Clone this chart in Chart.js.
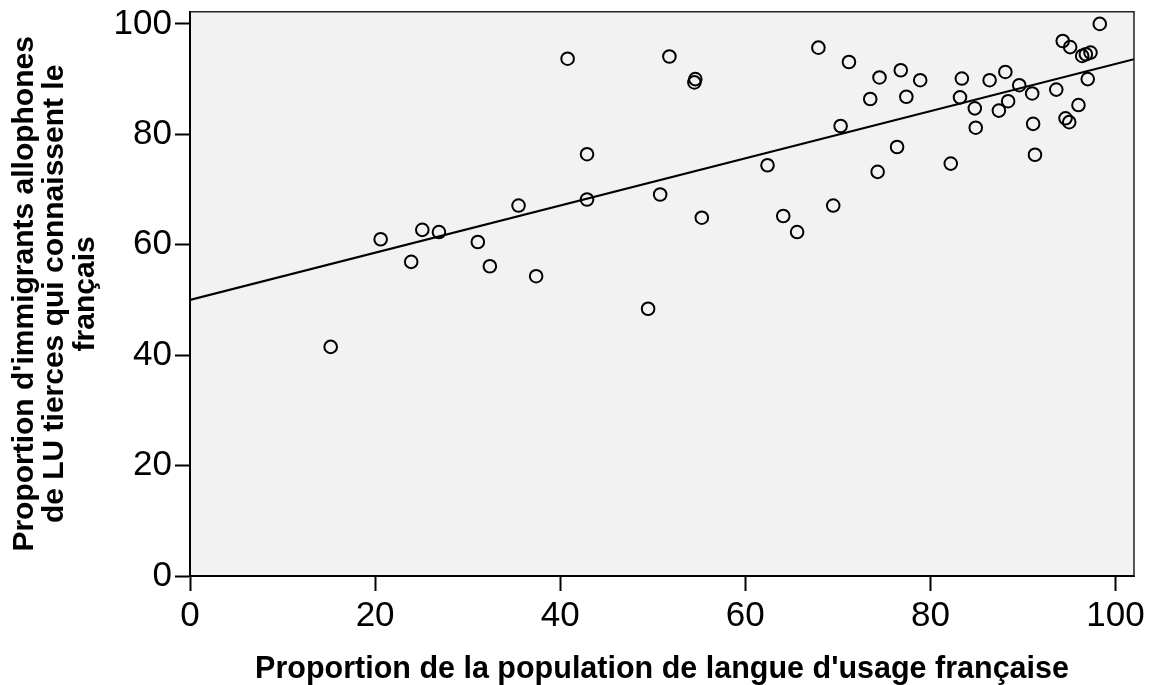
<!DOCTYPE html>
<html>
<head>
<meta charset="utf-8">
<script src="https://cdn.jsdelivr.net/npm/chart.js@4/dist/chart.umd.min.js"></script>
<style>
  html, body { margin: 0; padding: 0; background: #ffffff; }
  #wrap { width: 1162px; height: 685px; position: relative; }
</style>
</head>
<body>
<div id="wrap"><canvas id="c"></canvas></div>
<script>
// Proportion de la population de langue d'usage française (x)
const xValues = [15.2, 20.6, 23.9, 25.1, 26.9, 31.1, 32.4, 35.5, 37.4, 40.8,
                 42.9, 42.9, 49.5, 50.8, 51.8, 54.6, 54.5, 55.3, 62.4, 64.1,
                 65.6, 67.9, 69.5, 70.3, 71.2, 73.5, 74.3, 74.5, 76.4, 76.8,
                 77.4, 78.9, 82.2, 83.2, 83.4, 84.8, 84.9, 86.4, 87.4, 88.1,
                 88.4, 89.6, 91.0, 91.1, 91.3, 93.6, 94.3, 94.6, 95.0, 95.1,
                 96.0, 96.4, 96.8, 97.3, 97.0, 98.3];
// Proportion d'immigrants allophones de LU tierces qui connaissent le français (y)
const yValues = [41.5, 61.0, 56.9, 62.7, 62.3, 60.5, 56.1, 67.1, 54.3, 93.7,
                 76.4, 68.2, 48.4, 69.1, 94.1, 90.0, 89.4, 64.9, 74.4, 65.2,
                 62.3, 95.7, 67.1, 81.5, 93.1, 86.4, 73.2, 90.3, 77.7, 91.6,
                 86.8, 89.8, 74.7, 86.7, 90.1, 84.7, 81.2, 89.8, 84.3, 91.3,
                 86.0, 88.9, 87.4, 81.9, 76.3, 88.1, 96.9, 82.9, 82.2, 95.8,
                 85.3, 94.2, 94.5, 94.8, 90.0, 100.0];
// Regression line end points
const fitX = [0, 102];
const fitY = [50.0, 93.6];
// Tick labels
const xTicks = [0, 20, 40, 60, 80, 100];
const yTicks = [0, 20, 40, 60, 80, 100];
const xTitle = "Proportion de la population de langue d'usage française";
const yTitle = ["Proportion d'immigrants allophones", "de LU tierces qui connaissent le", "français"];

const points = xValues.map((x, i) => ({ x: x, y: yValues[i] }));
const fitPoints = fitX.map((x, i) => ({ x: x, y: fitY[i] }));

const FONT = "'Liberation Sans', Arial, Helvetica, sans-serif";

const framePlugin = {
  id: 'framePlugin',
  beforeDraw(chart) {
    const { ctx, chartArea: a } = chart;
    ctx.save();
    ctx.fillStyle = '#ffffff';
    ctx.fillRect(0, 0, chart.width, chart.height);
    ctx.fillStyle = '#f2f2f2';
    ctx.fillRect(a.left, a.top, a.right - a.left, a.bottom - a.top);
    ctx.restore();
  },
  afterDraw(chart) {
    const { ctx, chartArea: a } = chart;
    ctx.save();
    ctx.strokeStyle = '#222222';
    ctx.lineWidth = 1.5;
    ctx.beginPath();
    ctx.moveTo(a.left, a.top);
    ctx.lineTo(a.right, a.top);
    ctx.lineTo(a.right, a.bottom);
    ctx.stroke();
    ctx.restore();
  }
};

new Chart(document.getElementById('c'), {
  type: 'scatter',
  data: {
    datasets: [
      {
        label: 'fit',
        data: fitPoints,
        showLine: true,
        borderColor: '#000000',
        borderWidth: 2.2,
        pointRadius: 0,
        fill: false,
        order: 2
      },
      {
        label: 'points',
        data: points,
        pointStyle: 'circle',
        pointRadius: 6.3,
        pointBorderWidth: 2,
        pointBackgroundColor: 'rgba(0,0,0,0)',
        pointBorderColor: '#000000',
        order: 1
      }
    ]
  },
  options: {
    responsive: true,
    maintainAspectRatio: false,
    animation: false,
    layout: { padding: { top: 10, right: 28, left: 0, bottom: 0 } },
    plugins: {
      legend: { display: false },
      tooltip: { enabled: false }
    },
    scales: {
      x: {
        type: 'linear',
        min: 0,
        max: 102,
        afterFit(scale) { scale.height = 109; },
        afterBuildTicks(scale) { scale.ticks = xTicks.map(v => ({ value: v })); },
        ticks: {
          autoSkip: false,
          maxRotation: 0,
          includeBounds: false,
          padding: 4,
          color: '#000000',
          font: { family: FONT, size: 35 },
          callback: (v) => String(v)
        },
        grid: {
          drawOnChartArea: false,
          drawTicks: true,
          tickLength: 15,
          tickWidth: 2,
          tickColor: '#000000'
        },
        border: { display: true, color: '#000000', width: 2 },
        title: {
          display: true,
          text: xTitle,
          color: '#000000',
          font: { family: FONT, size: 30.5, weight: 'bold', lineHeight: 1.0 },
          padding: { top: 0, bottom: 0 }
        }
      },
      y: {
        type: 'linear',
        min: 0,
        max: 102.2,
        afterFit(scale) { scale.width = 190; },
        afterBuildTicks(scale) { scale.ticks = yTicks.map(v => ({ value: v })); },
        ticks: {
          autoSkip: false,
          includeBounds: false,
          padding: 3,
          color: '#000000',
          font: { family: FONT, size: 35, lineHeight: 0.5 },
          callback: (v) => String(v)
        },
        grid: {
          drawOnChartArea: false,
          drawTicks: true,
          tickLength: 15,
          tickWidth: 2,
          tickColor: '#000000'
        },
        border: { display: true, color: '#000000', width: 2 },
        title: {
          display: true,
          text: yTitle,
          color: '#000000',
          font: { family: FONT, size: 30, weight: 'bold', lineHeight: 1.02 },
          padding: { top: 9, bottom: 0 }
        }
      }
    }
  },
  plugins: [framePlugin]
});
</script>
</body>
</html>
